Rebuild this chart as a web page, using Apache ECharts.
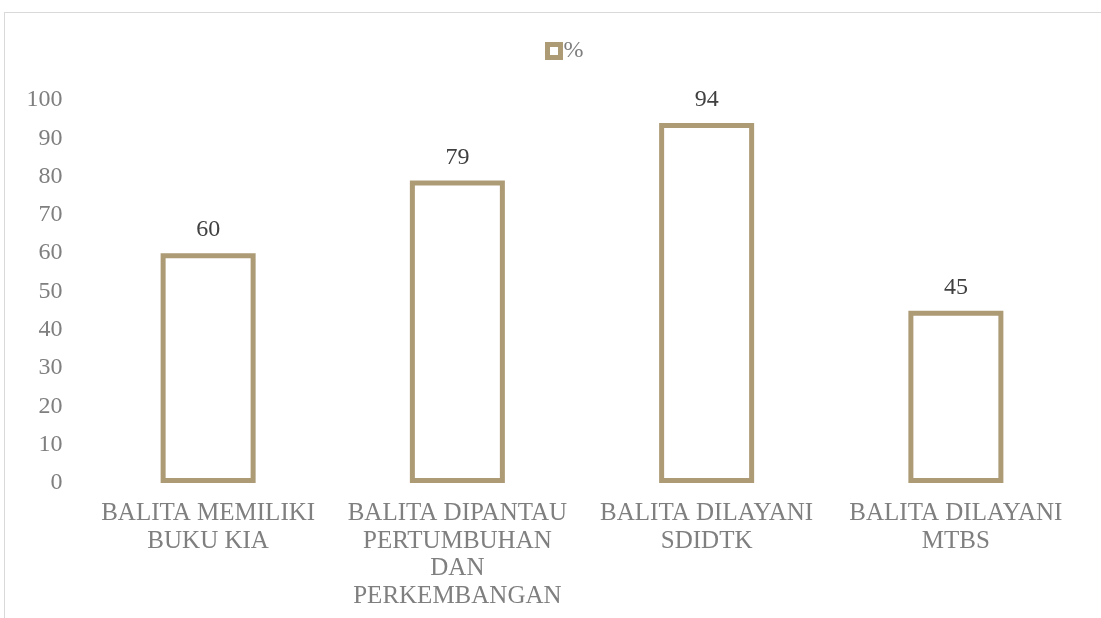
<!DOCTYPE html>
<html>
<head>
<meta charset="utf-8">
<script src="https://cdn.jsdelivr.net/npm/echarts@6/dist/echarts.min.js"></script>
<style>
  html, body { margin: 0; padding: 0; background: #fff; }
  #frame { position: absolute; left: 4px; top: 12px; width: 1110px; height: 620px;
           border-left: 1px solid #d9d9d9; border-top: 1px solid #d9d9d9; }
  #chart { position: absolute; left: 0; top: 0; width: 1101px; height: 618px; }
</style>
</head>
<body>
<div id="frame"></div>
<div id="chart"></div>
<script>
// data
const categories = [
  'BALITA MEMILIKI\nBUKU KIA',
  'BALITA DIPANTAU\nPERTUMBUHAN\nDAN\nPERKEMBANGAN',
  'BALITA DILAYANI\nSDIDTK',
  'BALITA DILAYANI\nMTBS'
]
const seriesName = '%'
const values = [60, 79, 94, 45]
const yTicks = { min: 0, max: 100, interval: 10 }

const font = 'Liberation Serif'
const barColor = '#ad9b76'

const chart = echarts.init(document.getElementById('chart'))
chart.setOption({
  animation: false,
  textStyle: { fontFamily: font },
  legend: {
    data: [{ name: seriesName, icon: 'rect' }],
    top: 34,
    left: 540,
    itemWidth: 13,
    itemHeight: 13,
    itemGap: 4,
    textStyle: { fontFamily: font, fontSize: 24, color: '#7f7f7f', padding: [0, 0, 0, -2] },
    itemStyle: { color: '#fff', borderColor: barColor, borderWidth: 5 }
  },
  grid: { left: 83.5, right: 20.5, top: 100, bottom: 135 },
  xAxis: {
    type: 'category',
    data: categories,
    axisLine: { show: false },
    axisTick: { show: false },
    axisLabel: {
      color: '#7f7f7f',
      fontFamily: font,
      fontSize: 25,
      lineHeight: 27.5,
      margin: 17,
      interval: 0
    }
  },
  yAxis: {
    type: 'value',
    min: yTicks.min,
    max: yTicks.max,
    interval: yTicks.interval,
    splitLine: { show: false },
    axisLine: { show: false },
    axisTick: { show: false },
    axisLabel: { color: '#7f7f7f', fontFamily: font, fontSize: 24, margin: 21 }
  },
  series: [{
    name: seriesName,
    type: 'bar',
    data: values,
    barWidth: 95,
    itemStyle: { color: '#fff', borderColor: barColor, borderWidth: 5 },
    label: {
      show: true,
      position: 'top',
      distance: 11,
      color: '#404040',
      fontFamily: font,
      fontSize: 24
    }
  }]
})
</script>
</body>
</html>
